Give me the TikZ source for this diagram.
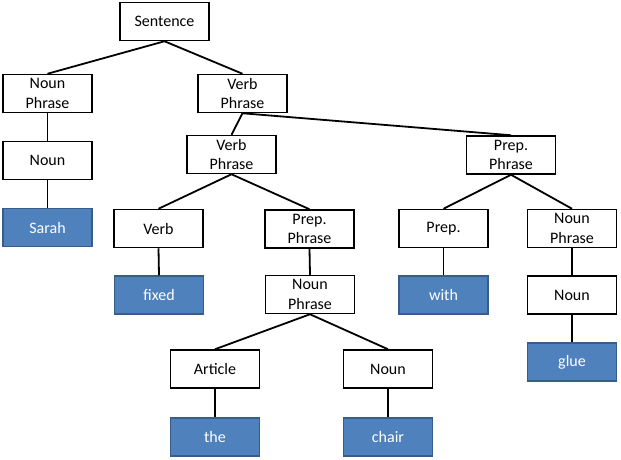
\documentclass[tikz,border=0pt]{standalone}
\usepackage{fontspec}
\setmainfont{Carlito}
\definecolor{leafblue}{RGB}{79,129,189}
\definecolor{leafedge}{RGB}{56,93,138}

\begin{document}
\begin{tikzpicture}
[
    x=1pt, y=-1pt,
    phrase/.style={draw=black, line width=1.5pt, fill=white, minimum width=89pt, minimum height=38pt,
        inner sep=0pt, align=center, font=\fontsize{16}{19.5}\selectfont},
    word/.style={phrase, draw=leafedge, fill=leafblue, text=white},
    branch/.style={line width=1.8pt},
]
\useasboundingbox (0,0) rectangle (621,459);
% upper levels
\node [phrase] (s)    at (164.5, 21.5) {Sentence};
\node [phrase] (np1)  at (47.5, 93.5)  {Noun\\Phrase};
\node [phrase] (vp1)  at (242.5, 93.5) {Verb\\Phrase};
\node [phrase] (n1)   at (47.5, 160.5) {Noun};
\node [phrase] (vp2)  at (231.5, 154.5) {Verb\\Phrase};
\node [phrase] (pp2)  at (511, 155)    {Prep.\\Phrase};
% middle
\node [phrase] (v)    at (158.5, 228.5) {Verb};
\node [phrase] (pp1)  at (309.5, 229)   {Prep.\\Phrase};
\node [phrase] (p)    at (443.5, 228.5) {Prep.};
\node [phrase] (np3)  at (572, 228.5)   {Noun\\Phrase};
\node [phrase] (np2)  at (310, 294.5)   {Noun\\Phrase};
\node [phrase] (n3)   at (572, 295)     {Noun};
\node [phrase] (art)  at (215, 369)     {Article};
\node [phrase] (n2)   at (388, 369)     {Noun};
% words
\node [word] (sarah)  at (47.5, 227.5)  {Sarah};
\node [word] (fixed)  at (159, 295)     {fixed};
\node [word] (with)   at (443.5, 295)   {with};
\node [word] (glue)   at (572, 362)     {glue};
\node [word] (the)    at (215, 437)     {the};
\node [word] (chair)  at (388, 437)     {chair};
% branches
\begin{scope}[branch]
\draw (s.south) -- (np1.north);
\draw (s.south) -- (vp1.north);
\draw (np1.south) -- (n1.north);
\draw (n1.south) -- (sarah.north);
\draw (vp1.south) -- (vp2.north);
\draw (vp1.south) -- (pp2.north);
\draw (vp2.south) -- (v.north);
\draw (vp2.south) -- (pp1.north);
\draw (v.south) -- (fixed.north);
\draw (pp1.south) -- (np2.north);
\draw (np2.south) -- (art.north);
\draw (np2.south) -- (n2.north);
\draw (art.south) -- (the.north);
\draw (n2.south) -- (chair.north);
\draw (pp2.south) -- (p.north);
\draw (pp2.south) -- (np3.north);
\draw (p.south) -- (with.north);
\draw (np3.south) -- (n3.north);
\draw (n3.south) -- (glue.north);
\end{scope}
\end{tikzpicture}
\end{document}
